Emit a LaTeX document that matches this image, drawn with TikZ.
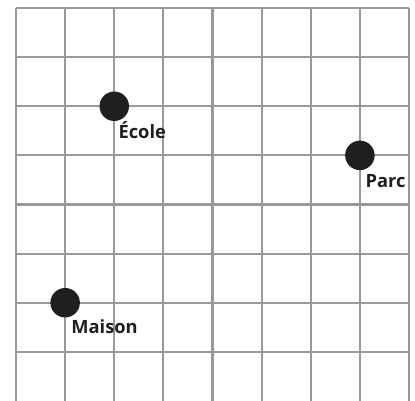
\documentclass[tikz,border=0pt]{standalone}
\usepackage{fontspec}
\setmainfont{Open Sans}
\begin{document}
\begin{tikzpicture}[
        lieu/.style={circle, fill=black!88, inner sep=0pt, minimum size=6mm},
        nom/.style={font=\bfseries\fontsize{10.6}{12}\selectfont, inner sep=0pt, anchor=base west, text=black!88},
        ]
                \useasboundingbox (-0.326,0.02) rectangle (8.122,8.163);
                \foreach \x in {0,...,8}
                    \draw[black!40, line width=1.2pt] (\x,0) -- (\x,8);
                \foreach \y in {1,...,8}
                    \draw[black!40, line width=1.2pt] (0,\y) -- (8,\y);

                \node[lieu] at(2,6) (ecole) {};
                \node[lieu] at(7,5) (parc) {};
                \node[lieu] at(1,2) (maison) {};

                \node[nom] at([xshift=0.8mm, yshift=-6.5mm]ecole.center) (ecole-nom) {École};
                \node[nom] at([xshift=1.1mm, yshift=-6.5mm]parc.center) (parc-nom) {Parc};
                \node[nom] at([xshift=1.2mm, yshift=-6.2mm]maison.center) (maison-nom) {Maison};

            \end{tikzpicture}
\end{document}
